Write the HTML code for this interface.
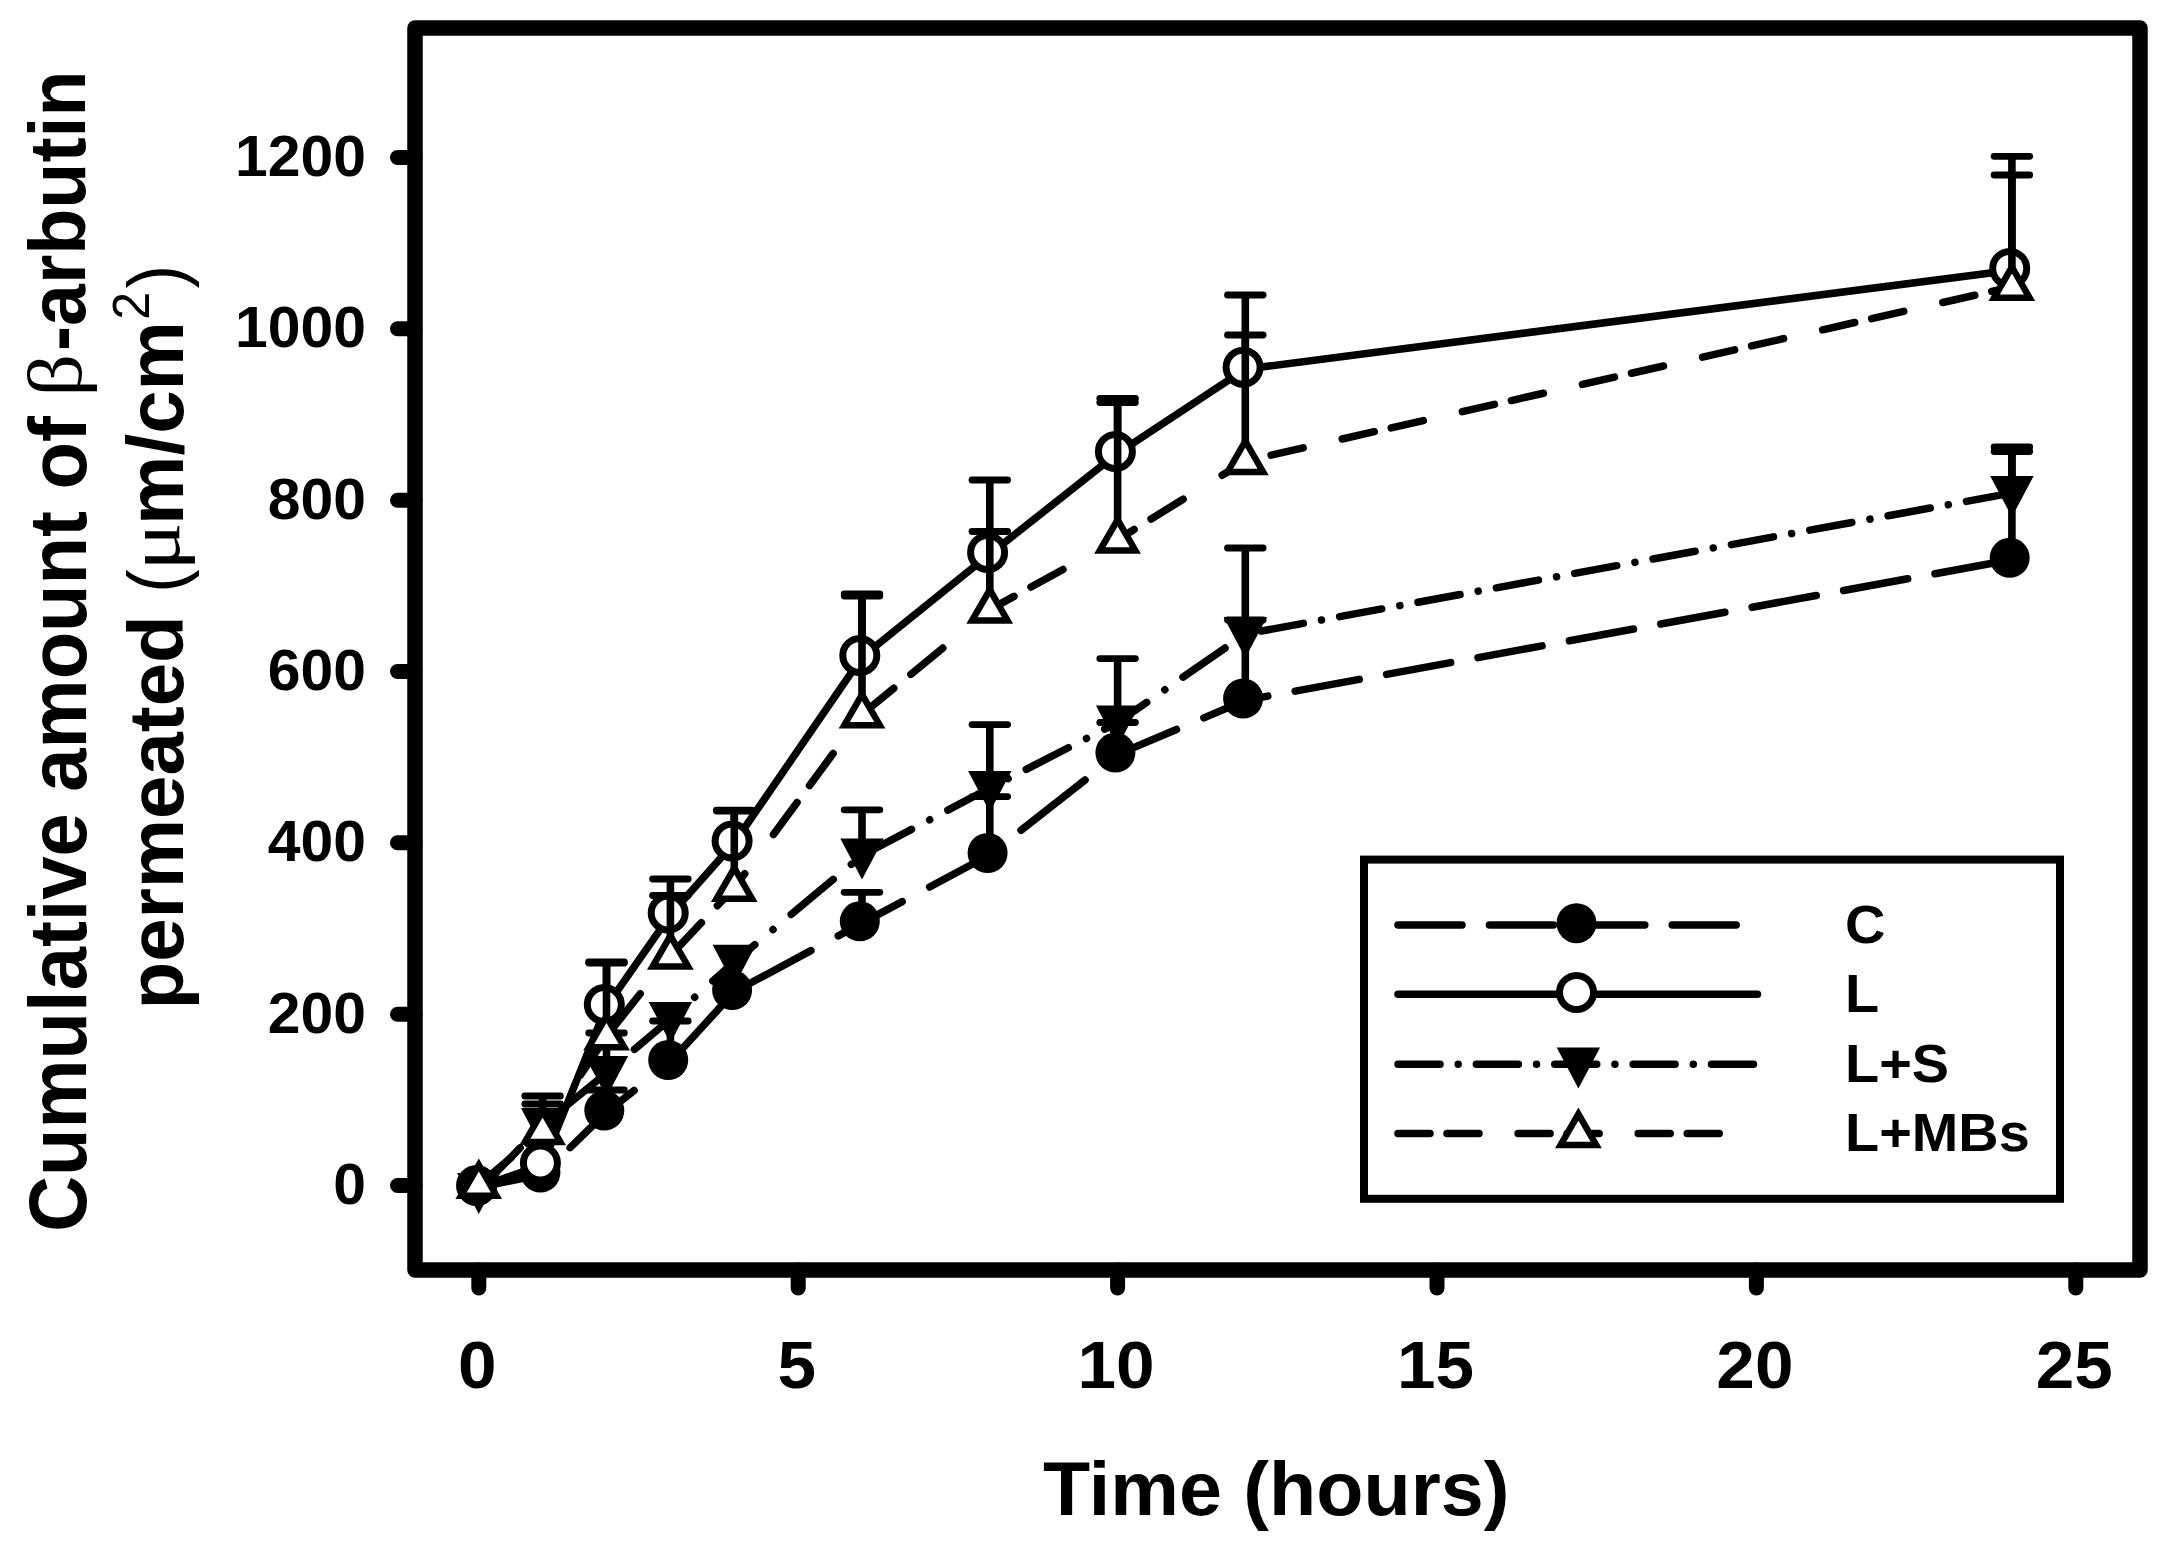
<!DOCTYPE html>
<html lang="en"><head><meta charset="utf-8"><title>Cumulative amount of β-arbutin permeated</title>
<style>
html,body{margin:0;padding:0;background:#fff}
svg{display:block}
text{font-family:"Liberation Sans",sans-serif;font-weight:bold;fill:#000}
.lg{font-size:54px}
.yt{font-size:57px}
.xt{font-size:67px}
.xl{font-size:76px}
.yl{font-size:78px}
.sym{font-family:"Liberation Serif",serif;font-weight:normal}
.par{font-weight:normal}
.sup{font-weight:normal;font-size:48px}
</style></head><body>
<svg width="2169" height="1551" viewBox="0 0 2169 1551">
<rect width="2169" height="1551" fill="#fff"/>
<rect x="415" y="28" width="1725" height="1242" fill="none" stroke="#000" stroke-width="15.5" stroke-linejoin="round"/>
<line x1="397.5" y1="1185.5" x2="415" y2="1185.5" stroke="#000" stroke-width="15" stroke-linecap="round"/>
<line x1="397.5" y1="1014.2" x2="415" y2="1014.2" stroke="#000" stroke-width="15" stroke-linecap="round"/>
<line x1="397.5" y1="842.8" x2="415" y2="842.8" stroke="#000" stroke-width="15" stroke-linecap="round"/>
<line x1="397.5" y1="671.5" x2="415" y2="671.5" stroke="#000" stroke-width="15" stroke-linecap="round"/>
<line x1="397.5" y1="500.2" x2="415" y2="500.2" stroke="#000" stroke-width="15" stroke-linecap="round"/>
<line x1="397.5" y1="328.8" x2="415" y2="328.8" stroke="#000" stroke-width="15" stroke-linecap="round"/>
<line x1="397.5" y1="157.5" x2="415" y2="157.5" stroke="#000" stroke-width="15" stroke-linecap="round"/>
<line x1="478.8" y1="1270" x2="478.8" y2="1288" stroke="#000" stroke-width="15" stroke-linecap="round"/>
<line x1="798.2" y1="1270" x2="798.2" y2="1288" stroke="#000" stroke-width="15" stroke-linecap="round"/>
<line x1="1117.6" y1="1270" x2="1117.6" y2="1288" stroke="#000" stroke-width="15" stroke-linecap="round"/>
<line x1="1437.0" y1="1270" x2="1437.0" y2="1288" stroke="#000" stroke-width="15" stroke-linecap="round"/>
<line x1="1756.4" y1="1270" x2="1756.4" y2="1288" stroke="#000" stroke-width="15" stroke-linecap="round"/>
<line x1="2075.8" y1="1270" x2="2075.8" y2="1288" stroke="#000" stroke-width="15" stroke-linecap="round"/>
<line x1="478.8" y1="1187.3" x2="542.6" y2="1174.3" stroke="#000" stroke-width="7.5" stroke-linecap="round" stroke-dasharray="65.31 27.96" stroke-dashoffset="0.00"/>
<line x1="542.6" y1="1174.3" x2="606.5" y2="1112.3" stroke="#000" stroke-width="7.5" stroke-linecap="round" stroke-dasharray="89.19 38.18" stroke-dashoffset="89.02"/>
<line x1="606.5" y1="1112.3" x2="670.4" y2="1061.8" stroke="#000" stroke-width="7.5" stroke-linecap="round" stroke-dasharray="81.58 34.93" stroke-dashoffset="46.35"/>
<line x1="670.4" y1="1061.8" x2="734.3" y2="991.8" stroke="#000" stroke-width="7.5" stroke-linecap="round" stroke-dasharray="86.64 37.09" stroke-dashoffset="11.97"/>
<line x1="734.3" y1="991.8" x2="862.0" y2="923.1" stroke="#000" stroke-width="7.5" stroke-linecap="round" stroke-dasharray="72.67 31.11" stroke-dashoffset="89.52"/>
<line x1="862.0" y1="923.1" x2="989.8" y2="854.8" stroke="#000" stroke-width="7.5" stroke-linecap="round" stroke-dasharray="72.57 31.07" stroke-dashoffset="26.99"/>
<line x1="989.8" y1="854.8" x2="1117.6" y2="754.4" stroke="#000" stroke-width="7.5" stroke-linecap="round" stroke-dasharray="81.40 34.85" stroke-dashoffset="76.51"/>
<line x1="1117.6" y1="754.4" x2="1245.3" y2="700.3" stroke="#000" stroke-width="7.5" stroke-linecap="round" stroke-dasharray="69.50 29.76" stroke-dashoffset="5.56"/>
<line x1="1245.3" y1="700.3" x2="2011.9" y2="559.6" stroke="#000" stroke-width="7.5" stroke-linecap="round" stroke-dasharray="65.07 27.86" stroke-dashoffset="42.17"/>
<path d="M606.5 1112.3V1090.0" fill="none" stroke="#000" stroke-width="7.6"/><path d="M588.7 1090.0H624.3" fill="none" stroke="#000" stroke-width="6.8" stroke-linecap="round"/>
<path d="M670.4 1061.8V1021.0" fill="none" stroke="#000" stroke-width="7.6"/><path d="M652.6 1021.0H688.2" fill="none" stroke="#000" stroke-width="6.8" stroke-linecap="round"/>
<path d="M862.0 923.1V892.3" fill="none" stroke="#000" stroke-width="7.6"/><path d="M844.2 892.3H879.8" fill="none" stroke="#000" stroke-width="6.8" stroke-linecap="round"/>
<path d="M989.8 854.8V796.6" fill="none" stroke="#000" stroke-width="7.6"/><path d="M972.0 796.6H1007.6" fill="none" stroke="#000" stroke-width="6.8" stroke-linecap="round"/>
<path d="M1117.6 754.4V722.5" fill="none" stroke="#000" stroke-width="7.6"/><path d="M1099.8 722.5H1135.4" fill="none" stroke="#000" stroke-width="6.8" stroke-linecap="round"/>
<path d="M1245.3 700.3V620.0" fill="none" stroke="#000" stroke-width="7.6"/><path d="M1227.5 620.0H1263.1" fill="none" stroke="#000" stroke-width="6.8" stroke-linecap="round"/>
<path d="M2011.9 559.6V451.5" fill="none" stroke="#000" stroke-width="7.6"/><path d="M1994.1 451.5H2029.7" fill="none" stroke="#000" stroke-width="6.8" stroke-linecap="round"/>
<circle cx="476.6" cy="1185.5" r="20"/>
<circle cx="540.4" cy="1172.5" r="20"/>
<circle cx="604.3" cy="1110.5" r="20"/>
<circle cx="668.2" cy="1060.0" r="20"/>
<circle cx="732.1" cy="990.0" r="20"/>
<circle cx="859.8" cy="921.3" r="20"/>
<circle cx="987.6" cy="853.0" r="20"/>
<circle cx="1115.4" cy="752.6" r="20"/>
<circle cx="1243.1" cy="698.5" r="20"/>
<circle cx="2009.7" cy="557.8" r="20"/>
<line x1="478.8" y1="1187.3" x2="542.6" y2="1164.8" stroke="#000" stroke-width="7.5" stroke-linecap="round"/>
<line x1="542.6" y1="1164.8" x2="606.5" y2="1006.3" stroke="#000" stroke-width="7.5" stroke-linecap="round"/>
<line x1="606.5" y1="1006.3" x2="670.4" y2="914.8" stroke="#000" stroke-width="7.5" stroke-linecap="round"/>
<line x1="670.4" y1="914.8" x2="734.3" y2="842.8" stroke="#000" stroke-width="7.5" stroke-linecap="round"/>
<line x1="734.3" y1="842.8" x2="862.0" y2="657.2" stroke="#000" stroke-width="7.5" stroke-linecap="round"/>
<line x1="862.0" y1="657.2" x2="989.8" y2="554.2" stroke="#000" stroke-width="7.5" stroke-linecap="round"/>
<line x1="989.8" y1="554.2" x2="1117.6" y2="453.3" stroke="#000" stroke-width="7.5" stroke-linecap="round"/>
<line x1="1117.6" y1="453.3" x2="1245.3" y2="369.1" stroke="#000" stroke-width="7.5" stroke-linecap="round"/>
<line x1="1245.3" y1="369.1" x2="2011.9" y2="270.2" stroke="#000" stroke-width="7.5" stroke-linecap="round"/>
<path d="M606.5 1006.3V962.0" fill="none" stroke="#000" stroke-width="7.6"/><path d="M588.7 962.0H624.3" fill="none" stroke="#000" stroke-width="6.8" stroke-linecap="round"/>
<path d="M670.4 914.8V879.0" fill="none" stroke="#000" stroke-width="7.6"/><path d="M652.6 879.0H688.2" fill="none" stroke="#000" stroke-width="6.8" stroke-linecap="round"/>
<path d="M734.3 842.8V810.2" fill="none" stroke="#000" stroke-width="7.6"/><path d="M716.5 810.2H752.1" fill="none" stroke="#000" stroke-width="6.8" stroke-linecap="round"/>
<path d="M862.0 657.2V594.0" fill="none" stroke="#000" stroke-width="7.6"/><path d="M844.2 594.0H879.8" fill="none" stroke="#000" stroke-width="6.8" stroke-linecap="round"/>
<path d="M989.8 554.2V480.0" fill="none" stroke="#000" stroke-width="7.6"/><path d="M972.0 480.0H1007.6" fill="none" stroke="#000" stroke-width="6.8" stroke-linecap="round"/>
<path d="M1117.6 453.3V398.5" fill="none" stroke="#000" stroke-width="7.6"/><path d="M1099.8 398.5H1135.4" fill="none" stroke="#000" stroke-width="6.8" stroke-linecap="round"/>
<path d="M1245.3 369.1V295.0" fill="none" stroke="#000" stroke-width="7.6"/><path d="M1227.5 295.0H1263.1" fill="none" stroke="#000" stroke-width="6.8" stroke-linecap="round"/>
<path d="M2011.9 270.2V156.3" fill="none" stroke="#000" stroke-width="7.6"/><path d="M1994.1 156.3H2029.7" fill="none" stroke="#000" stroke-width="6.8" stroke-linecap="round"/>
<circle cx="476.6" cy="1185.5" r="17" fill="#fff" stroke="#000" stroke-width="7"/>
<circle cx="540.4" cy="1163.0" r="17" fill="#fff" stroke="#000" stroke-width="7"/>
<circle cx="604.3" cy="1004.5" r="17" fill="#fff" stroke="#000" stroke-width="7"/>
<circle cx="668.2" cy="913.0" r="17" fill="#fff" stroke="#000" stroke-width="7"/>
<circle cx="732.1" cy="841.0" r="17" fill="#fff" stroke="#000" stroke-width="7"/>
<circle cx="859.8" cy="655.4" r="17" fill="#fff" stroke="#000" stroke-width="7"/>
<circle cx="987.6" cy="552.4" r="17" fill="#fff" stroke="#000" stroke-width="7"/>
<circle cx="1115.4" cy="451.5" r="17" fill="#fff" stroke="#000" stroke-width="7"/>
<circle cx="1243.1" cy="367.3" r="17" fill="#fff" stroke="#000" stroke-width="7"/>
<circle cx="2009.7" cy="268.4" r="17" fill="#fff" stroke="#000" stroke-width="7"/>
<line x1="478.8" y1="1190.0" x2="542.6" y2="1125.1" stroke="#000" stroke-width="7.5" stroke-linecap="round" stroke-dasharray="58.93 25.51 0.01 25.51" stroke-dashoffset="0.00"/>
<line x1="542.6" y1="1125.1" x2="606.5" y2="1073.0" stroke="#000" stroke-width="7.5" stroke-linecap="round" stroke-dasharray="54.20 23.46 0.01 23.46" stroke-dashoffset="83.75"/>
<line x1="606.5" y1="1073.0" x2="670.4" y2="1019.0" stroke="#000" stroke-width="7.5" stroke-linecap="round" stroke-dasharray="55.00 23.81 0.01 23.81" stroke-dashoffset="66.02"/>
<line x1="670.4" y1="1019.0" x2="734.3" y2="961.8" stroke="#000" stroke-width="7.5" stroke-linecap="round" stroke-dasharray="56.38 24.40 0.01 24.40" stroke-dashoffset="48.24"/>
<line x1="734.3" y1="961.8" x2="862.0" y2="855.5" stroke="#000" stroke-width="7.5" stroke-linecap="round" stroke-dasharray="54.64 23.65 0.01 23.65" stroke-dashoffset="27.92"/>
<line x1="862.0" y1="855.5" x2="989.8" y2="788.0" stroke="#000" stroke-width="7.5" stroke-linecap="round" stroke-dasharray="47.50 20.56 0.01 20.56" stroke-dashoffset="80.14"/>
<line x1="989.8" y1="788.0" x2="1117.6" y2="722.5" stroke="#000" stroke-width="7.5" stroke-linecap="round" stroke-dasharray="47.20 20.43 0.01 20.43" stroke-dashoffset="47.09"/>
<line x1="1117.6" y1="722.5" x2="1245.3" y2="634.0" stroke="#000" stroke-width="7.5" stroke-linecap="round" stroke-dasharray="51.09 22.12 0.01 22.12" stroke-dashoffset="15.74"/>
<line x1="1245.3" y1="634.0" x2="2011.9" y2="493.0" stroke="#000" stroke-width="7.5" stroke-linecap="round" stroke-dasharray="42.70 18.48 0.01 18.48" stroke-dashoffset="63.39"/>
<path d="M542.6 1125.1V1096.0" fill="none" stroke="#000" stroke-width="7.6"/><path d="M524.8 1096.0H560.4" fill="none" stroke="#000" stroke-width="6.8" stroke-linecap="round"/>
<path d="M606.5 1073.0V1033.0" fill="none" stroke="#000" stroke-width="7.6"/><path d="M588.7 1033.0H624.3" fill="none" stroke="#000" stroke-width="6.8" stroke-linecap="round"/>
<path d="M862.0 855.5V809.8" fill="none" stroke="#000" stroke-width="7.6"/><path d="M844.2 809.8H879.8" fill="none" stroke="#000" stroke-width="6.8" stroke-linecap="round"/>
<path d="M989.8 788.0V724.6" fill="none" stroke="#000" stroke-width="7.6"/><path d="M972.0 724.6H1007.6" fill="none" stroke="#000" stroke-width="6.8" stroke-linecap="round"/>
<path d="M1117.6 722.5V658.6" fill="none" stroke="#000" stroke-width="7.6"/><path d="M1099.8 658.6H1135.4" fill="none" stroke="#000" stroke-width="6.8" stroke-linecap="round"/>
<path d="M1245.3 634.0V548.0" fill="none" stroke="#000" stroke-width="7.6"/><path d="M1227.5 548.0H1263.1" fill="none" stroke="#000" stroke-width="6.8" stroke-linecap="round"/>
<path d="M2011.9 493.0V447.0" fill="none" stroke="#000" stroke-width="7.6"/><path d="M1994.1 447.0H2029.7" fill="none" stroke="#000" stroke-width="6.8" stroke-linecap="round"/>
<polygon points="457.1,1173.0 500.4,1173.0 478.8,1214.0"/>
<polygon points="520.9,1108.1 564.3,1108.1 542.6,1149.1"/>
<polygon points="584.8,1056.0 628.2,1056.0 606.5,1097.0"/>
<polygon points="648.7,1002.0 692.1,1002.0 670.4,1043.0"/>
<polygon points="712.6,944.8 756.0,944.8 734.3,985.8"/>
<polygon points="840.3,838.5 883.7,838.5 862.0,879.5"/>
<polygon points="968.1,771.0 1011.5,771.0 989.8,812.0"/>
<polygon points="1095.9,705.5 1139.3,705.5 1117.6,746.5"/>
<polygon points="1223.6,617.0 1267.0,617.0 1245.3,658.0"/>
<polygon points="1990.2,476.0 2033.6,476.0 2011.9,517.0"/>
<line x1="478.8" y1="1184.8" x2="542.6" y2="1131.0" stroke="#000" stroke-width="7.5" stroke-linecap="round" stroke-dasharray="41.84 22.23 41.84 51.12" stroke-dashoffset="0.00"/>
<line x1="542.6" y1="1131.0" x2="606.5" y2="1036.3" stroke="#000" stroke-width="7.5" stroke-linecap="round" stroke-dasharray="38.60 20.51 38.60 47.16" stroke-dashoffset="77.05"/>
<line x1="606.5" y1="1036.3" x2="670.4" y2="955.6" stroke="#000" stroke-width="7.5" stroke-linecap="round" stroke-dasharray="40.81 21.68 40.81 49.87" stroke-dashoffset="49.08"/>
<line x1="670.4" y1="955.6" x2="734.3" y2="887.8" stroke="#000" stroke-width="7.5" stroke-linecap="round" stroke-dasharray="43.97 23.36 43.97 53.72" stroke-dashoffset="163.75"/>
<line x1="734.3" y1="887.8" x2="862.0" y2="714.3" stroke="#000" stroke-width="7.5" stroke-linecap="round" stroke-dasharray="39.74 21.11 39.74 48.56" stroke-dashoffset="83.06"/>
<line x1="862.0" y1="714.3" x2="989.8" y2="609.6" stroke="#000" stroke-width="7.5" stroke-linecap="round" stroke-dasharray="41.37 21.98 41.37 50.55" stroke-dashoffset="0.23"/>
<line x1="989.8" y1="609.6" x2="1117.6" y2="539.6" stroke="#000" stroke-width="7.5" stroke-linecap="round" stroke-dasharray="36.49 19.38 36.49 44.58" stroke-dashoffset="8.94"/>
<line x1="1117.6" y1="539.6" x2="1245.3" y2="461.0" stroke="#000" stroke-width="7.5" stroke-linecap="round" stroke-dasharray="37.57 19.96 37.57 45.91" stroke-dashoffset="18.20"/>
<line x1="1245.3" y1="461.0" x2="2011.9" y2="286.8" stroke="#000" stroke-width="7.5" stroke-linecap="round" stroke-dasharray="32.82 17.43 32.82 40.10" stroke-dashoffset="23.75"/>
<path d="M542.6 1131.0V1104.0" fill="none" stroke="#000" stroke-width="7.6"/><path d="M524.8 1104.0H560.4" fill="none" stroke="#000" stroke-width="6.8" stroke-linecap="round"/>
<path d="M606.5 1036.3V963.0" fill="none" stroke="#000" stroke-width="7.6"/><path d="M588.7 963.0H624.3" fill="none" stroke="#000" stroke-width="6.8" stroke-linecap="round"/>
<path d="M670.4 955.6V895.5" fill="none" stroke="#000" stroke-width="7.6"/><path d="M652.6 895.5H688.2" fill="none" stroke="#000" stroke-width="6.8" stroke-linecap="round"/>
<path d="M734.3 887.8V811.0" fill="none" stroke="#000" stroke-width="7.6"/><path d="M716.5 811.0H752.1" fill="none" stroke="#000" stroke-width="6.8" stroke-linecap="round"/>
<path d="M862.0 714.3V596.0" fill="none" stroke="#000" stroke-width="7.6"/><path d="M844.2 596.0H879.8" fill="none" stroke="#000" stroke-width="6.8" stroke-linecap="round"/>
<path d="M989.8 609.6V531.5" fill="none" stroke="#000" stroke-width="7.6"/><path d="M972.0 531.5H1007.6" fill="none" stroke="#000" stroke-width="6.8" stroke-linecap="round"/>
<path d="M1117.6 539.6V402.5" fill="none" stroke="#000" stroke-width="7.6"/><path d="M1099.8 402.5H1135.4" fill="none" stroke="#000" stroke-width="6.8" stroke-linecap="round"/>
<path d="M1245.3 461.0V335.0" fill="none" stroke="#000" stroke-width="7.6"/><path d="M1227.5 335.0H1263.1" fill="none" stroke="#000" stroke-width="6.8" stroke-linecap="round"/>
<path d="M2011.9 286.8V175.0" fill="none" stroke="#000" stroke-width="7.6"/><path d="M1994.1 175.0H2029.7" fill="none" stroke="#000" stroke-width="6.8" stroke-linecap="round"/>
<polygon points="461.0,1195.8 496.5,1195.8 478.8,1165.0" fill="#fff" stroke="#000" stroke-width="6.5" stroke-linejoin="miter"/>
<polygon points="524.9,1142.0 560.4,1142.0 542.6,1111.2" fill="#fff" stroke="#000" stroke-width="6.5" stroke-linejoin="miter"/>
<polygon points="588.8,1047.2 624.3,1047.2 606.5,1016.5" fill="#fff" stroke="#000" stroke-width="6.5" stroke-linejoin="miter"/>
<polygon points="652.6,966.5 688.1,966.5 670.4,935.8" fill="#fff" stroke="#000" stroke-width="6.5" stroke-linejoin="miter"/>
<polygon points="716.5,898.8 752.0,898.8 734.3,868.0" fill="#fff" stroke="#000" stroke-width="6.5" stroke-linejoin="miter"/>
<polygon points="844.3,725.2 879.8,725.2 862.0,694.5" fill="#fff" stroke="#000" stroke-width="6.5" stroke-linejoin="miter"/>
<polygon points="972.0,620.5 1007.5,620.5 989.8,589.8" fill="#fff" stroke="#000" stroke-width="6.5" stroke-linejoin="miter"/>
<polygon points="1099.8,550.5 1135.3,550.5 1117.6,519.8" fill="#fff" stroke="#000" stroke-width="6.5" stroke-linejoin="miter"/>
<polygon points="1227.6,471.9 1263.1,471.9 1245.3,441.2" fill="#fff" stroke="#000" stroke-width="6.5" stroke-linejoin="miter"/>
<polygon points="1994.1,297.8 2029.6,297.8 2011.9,267.0" fill="#fff" stroke="#000" stroke-width="6.5" stroke-linejoin="miter"/>
<rect x="1364" y="859.6" width="696" height="339.2" fill="#fff" stroke="#000" stroke-width="8"/>
<line x1="1398.0" y1="925.0" x2="1757.5" y2="925.0" stroke="#000" stroke-width="7.5" stroke-linecap="round" stroke-dasharray="64.00 27.40" stroke-dashoffset="0.00"/>
<circle cx="1576.5" cy="923.2" r="20"/>
<text class="lg" transform="translate(1845 943.0) scale(1.035 1)">C</text>
<line x1="1398.0" y1="994.2" x2="1757.5" y2="994.2" stroke="#000" stroke-width="7.5" stroke-linecap="round"/>
<circle cx="1576.5" cy="992.4" r="17" fill="#fff" stroke="#000" stroke-width="7"/>
<text class="lg" transform="translate(1845 1012.2) scale(1.035 1)">L</text>
<line x1="1398.0" y1="1064.2" x2="1757.5" y2="1064.2" stroke="#000" stroke-width="7.5" stroke-linecap="round" stroke-dasharray="42.00 18.18 0.01 18.18" stroke-dashoffset="0.00"/>
<polygon points="1556.7,1047.6 1600.1,1047.6 1578.4,1088.6"/>
<text class="lg" transform="translate(1845 1082.2) scale(1.035 1)">L+S</text>
<line x1="1398.0" y1="1133.4" x2="1757.5" y2="1133.4" stroke="#000" stroke-width="7.5" stroke-linecap="round" stroke-dasharray="32.00 17.00 32.00 39.10" stroke-dashoffset="0.00"/>
<polygon points="1560.6,1144.9 1596.2,1144.9 1578.4,1114.1" fill="#fff" stroke="#000" stroke-width="6.5" stroke-linejoin="miter"/>
<text class="lg" transform="translate(1845 1151.4) scale(1.035 1)">L+MBs</text>
<text class="yt" transform="translate(366 1204.1) scale(1.033 1)" text-anchor="end">0</text>
<text class="yt" transform="translate(366 1032.8) scale(1.033 1)" text-anchor="end">200</text>
<text class="yt" transform="translate(366 861.4) scale(1.033 1)" text-anchor="end">400</text>
<text class="yt" transform="translate(366 690.1) scale(1.033 1)" text-anchor="end">600</text>
<text class="yt" transform="translate(366 518.8) scale(1.033 1)" text-anchor="end">800</text>
<text class="yt" transform="translate(366 347.4) scale(1.033 1)" text-anchor="end">1000</text>
<text class="yt" transform="translate(366 176.1) scale(1.033 1)" text-anchor="end">1200</text>
<text class="xt" transform="translate(477.2 1388) scale(1.035 1)" text-anchor="middle">0</text>
<text class="xt" transform="translate(796.7 1388) scale(1.035 1)" text-anchor="middle">5</text>
<text class="xt" transform="translate(1116.1 1388) scale(1.035 1)" text-anchor="middle">10</text>
<text class="xt" transform="translate(1435.5 1388) scale(1.035 1)" text-anchor="middle">15</text>
<text class="xt" transform="translate(1754.9 1388) scale(1.035 1)" text-anchor="middle">20</text>
<text class="xt" transform="translate(2074.2 1388) scale(1.035 1)" text-anchor="middle">25</text>
<text class="xl" transform="translate(1276.2 1515) scale(1.0165 1)" text-anchor="middle">Time (hours)</text>
<text class="yl" transform="translate(85.97 824.12) rotate(-90) scale(0.9963 1.0346)" text-anchor="middle">Cumulative amount of</text>
<text class="yl sym" transform="translate(80.83 375.30) rotate(-90) scale(1.0775 0.9642)" text-anchor="middle">β</text>
<text class="yl" transform="translate(85.47 210.78) rotate(-90) scale(0.9661 1.0172)" text-anchor="middle">-arbutin</text>
<text class="yl" transform="translate(182.87 812.38) rotate(-90) scale(0.9990 0.9921)" text-anchor="middle">permeated</text>
<text class="yl par" transform="translate(182.97 581.15) rotate(-90) scale(0.9010 0.9864)" text-anchor="middle">(</text>
<text class="yl sym" transform="translate(179.07 546.67) rotate(-90) scale(1.1566 0.9364)" text-anchor="middle">μ</text>
<text class="yl" transform="translate(183.47 423.00) rotate(-90) scale(1.0010 1.0174)" text-anchor="middle">m/cm</text>
<text class="yl sup" transform="translate(148.72 305.73) rotate(-90) scale(1.0465 1.0609)" text-anchor="middle">2</text>
<text class="yl par" transform="translate(183.02 276.66) rotate(-90) scale(0.9073 1.0003)" text-anchor="middle">)</text>
</svg>
</body></html>
